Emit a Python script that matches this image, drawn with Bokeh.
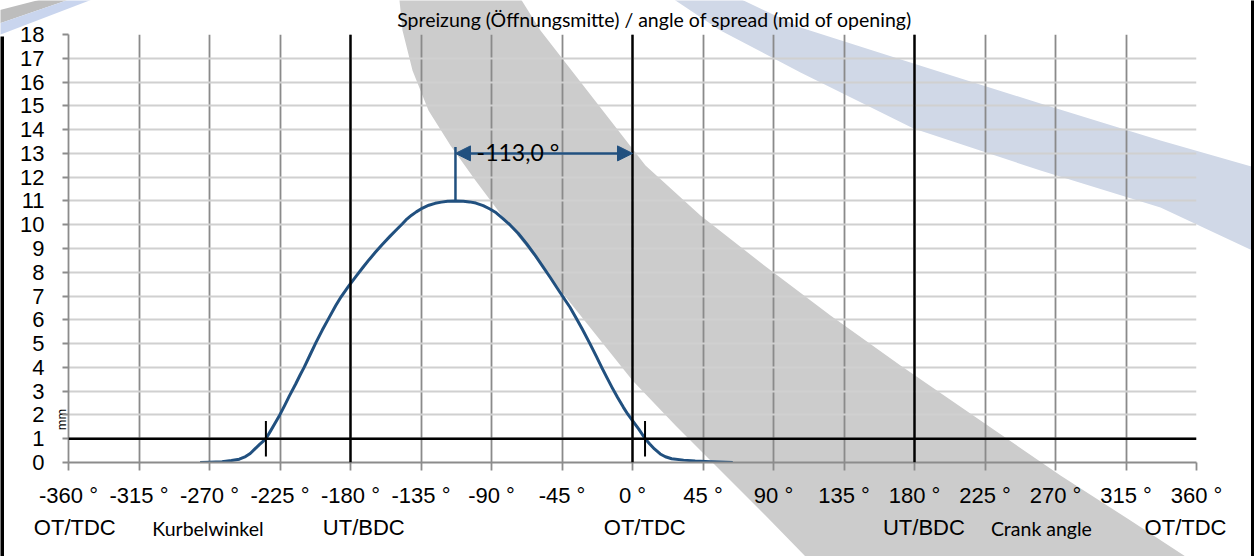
from bokeh.plotting import figure
from bokeh.layouts import column
from bokeh.models import Range1d, FixedTicker, Span, Label, Arrow, NormalHead
from bokeh.core.properties import value
from bokeh.embed import file_html
from bokeh.resources import INLINE

# ---------------- data ----------------
crank_angle = [-276, -270, -262, -256, -251, -247, -244, -241, -238, -236, -234, -231,
               -228, -225.7, -222, -219, -215, -212, -209.6, -206, -202, -198, -194, -189.4,
               -186, -182, -180, -176, -172, -168, -164, -160, -155, -151, -147, -144.6,
               -141, -138, -134, -130, -126, -122, -118, -113, -108, -104, -100, -95.3,
               -91, -87, -82.5, -78, -73, -67.6, -62, -57, -52.7, -48, -44, -39.9,
               -36, -32, -27.1, -23, -19.5, -16.4, -13, -9.5, -5.8, -3, 0, 4,
               8.1, 11, 14, 17.7, 21, 25, 32.6, 40, 50, 64]
valve_lift = [0.0, 0.01, 0.03, 0.08, 0.14, 0.25, 0.38, 0.57, 0.76, 0.88, 1.0, 1.33,
              1.67, 1.93, 2.4, 2.8, 3.3, 3.7, 4.0, 4.5, 5.05, 5.57, 6.05, 6.6,
              6.97, 7.34, 7.52, 7.87, 8.21, 8.54, 8.85, 9.15, 9.5, 9.77, 10.03, 10.2,
              10.4, 10.54, 10.7, 10.82, 10.9, 10.95, 10.99, 11.0, 10.99, 10.96, 10.91, 10.8,
              10.66, 10.5, 10.25, 9.98, 9.64, 9.2, 8.7, 8.22, 7.8, 7.33, 6.93, 6.53,
              6.08, 5.6, 4.99, 4.45, 3.98, 3.58, 3.15, 2.73, 2.32, 2.03, 1.76, 1.4,
              1.0, 0.78, 0.57, 0.36, 0.24, 0.16, 0.1, 0.06, 0.03, 0.0]

x_ticks = list(range(-360, 361, 45))
y_ticks = list(range(0, 19))
dead_centre_angles = [-180, 0, 180]
lift_threshold = 1.0
threshold_crossings = [-234, 8]
spread_angle = -113.0
peak_lift = 11.0

position_names = ["OT/TDC", "UT/BDC", "OT/TDC", "UT/BDC", "OT/TDC"]
position_label_x = [-356, -171.5, 7.8, 186, 353]
axis_titles = ["Kurbelwinkel", "Crank angle"]
axis_title_x = [-271, 261]
title_text = "Spreizung (Öffnungsmitte) / angle of spread (mid of opening)"

BLUE = "#21507f"
ARIAL = "Liberation Sans"
CAL = "Lato"
W, H = 1254, 556
FL, FR, FT, FB = 68, 1196, 34, 462   # frame edges on the canvas


def dx(xp):
    return (xp - FL) / (FR - FL) * 720 - 360


def dy(yp):
    return (FB - yp) / (FB - FT) * 18


# ---------------- background layer (decoration + outer texts) ----------------
bg = figure(width=W, height=H, x_range=Range1d(dx(0), dx(W)), y_range=Range1d(dy(H), dy(0)),
            x_axis_location=None, y_axis_location=None, min_border=0, frame_align=False,
            output_backend="svg", toolbar_location=None)
bg.grid.visible = False
bg.outline_line_color = None
bg.background_fill_color = "white"
bg.border_fill_color = "white"


def deco(points, color):
    bg.patch([dx(a) for a, b in points], [dy(b) for a, b in points],
             fill_color=color, line_color=None)


gray_left = [(398, -10), (402, 30), (412, 70), (428, 110), (450, 145), (475, 180), (505, 220),
             (537, 260), (568, 300), (600, 340), (632, 380), (675, 425), (720, 470),
             (765, 515), (805, 556), (815, 570)]
gray_right = [(1200, 570), (1185, 556), (1130, 520), (1060, 475), (980, 420), (900, 365),
              (830, 315), (760, 262), (700, 215), (645, 165), (610, 120), (575, 75),
              (540, 30), (515, -10)]
deco(gray_left + gray_right, "#cccccc")
deco([(722, -10), (800, 27), (913, 63), (1040, 103), (1160, 140), (1265, 170),
      (1265, 256), (1160, 207), (1040, 170), (913, 128), (800, 72), (720, 30), (660, -10)],
     "#d0d8e7")
deco([(-10, 12), (75, -10), (95, -10), (-10, 26)], "#bdbdbd")
deco([(-10, 26), (95, -10), (115, -10), (-10, 38)], "#c9d5ee")
deco([(-5, 36), (3.5, 36), (3.5, 560), (-5, 560)], "#000000")
deco([(1250.5, -5), (1260, -5), (1260, 560), (1250.5, 560)], "#000000")

bg.text(x=[dx(654)], y=[dy(18.5)], text=[title_text], text_font=value(CAL),
        text_font_size=value("19.5px"), text_color="black", text_align="center",
        text_baseline="alphabetic")
bg.text(x=position_label_x, y=[dy(526.5)] * len(position_names), text=position_names,
        text_font=value(ARIAL), text_font_size=value("22px"), text_color="black",
        text_align="center", text_baseline="alphabetic")
bg.text(x=axis_title_x, y=[dy(527.5)] * len(axis_titles), text=axis_titles,
        text_font=value(CAL), text_font_size=value("19.5px"), text_color="black",
        text_align="center", text_baseline="alphabetic")
bg.text(x=[dx(60)], y=[dy(419)], text=["mm"], angle=1.5708, text_font=value(CAL),
        text_font_size=value("13px"), text_color="black", text_align="center",
        text_baseline="middle")

# ---------------- chart layer ----------------
p = figure(width=W, height=H, x_range=Range1d(-360, 360), y_range=Range1d(0, 18),
           output_backend="svg", toolbar_location=None, frame_align=False,
           min_border_left=FL, min_border_right=W - FR, min_border_top=FT,
           min_border_bottom=H - FB, margin=(-H, 0, 0, 0))
p.outline_line_color = None
p.background_fill_alpha = 0
p.border_fill_alpha = 0

p.xaxis.ticker = FixedTicker(ticks=x_ticks)
p.xaxis.major_label_overrides = {t: f"{t} °" for t in x_ticks}
p.yaxis.ticker = FixedTicker(ticks=y_ticks)
for ax in (p.xaxis[0], p.yaxis[0]):
    ax.axis_line_color = "#8c8c8c"
    ax.axis_line_width = 1.8
    ax.major_tick_line_color = "#8c8c8c"
    ax.major_tick_line_width = 1.8
    ax.major_tick_in = 0
    ax.minor_tick_line_color = None
    ax.major_label_text_font = ARIAL
    ax.major_label_text_font_size = "22px"
    ax.major_label_text_color = "black"
p.xaxis.major_tick_out = 8
p.xaxis.major_label_standoff = 12
p.yaxis.major_tick_out = 6
p.yaxis.major_label_standoff = 18

p.xgrid.ticker = FixedTicker(ticks=x_ticks)
p.xgrid.grid_line_color = "#8a8a8a"
p.xgrid.grid_line_width = 1.8
p.ygrid.ticker = FixedTicker(ticks=y_ticks)
p.ygrid.grid_line_color = "#d0d0d0"
p.ygrid.grid_line_width = 1.8

for a in dead_centre_angles:
    p.add_layout(Span(location=a, dimension="height", line_color="black", line_width=2.4))
p.add_layout(Span(location=lift_threshold, dimension="width", line_color="black", line_width=2.4))

p.line(crank_angle, valve_lift, line_width=3, line_color=BLUE, line_join="round")

p.segment(x0=threshold_crossings, y0=[lift_threshold - 0.75] * 2,
          x1=threshold_crossings, y1=[lift_threshold + 0.75] * 2,
          line_color="black", line_width=2)

arrow_y = 13.0
p.segment(x0=[spread_angle], y0=[peak_lift], x1=[spread_angle], y1=[arrow_y + 0.27],
          line_color=BLUE, line_width=2.5)
p.add_layout(Arrow(x_start=spread_angle, y_start=arrow_y, x_end=0, y_end=arrow_y,
                   start=NormalHead(size=15, fill_color=BLUE, line_color=BLUE),
                   end=NormalHead(size=15, fill_color=BLUE, line_color=BLUE),
                   line_color=BLUE, line_width=2.5))
p.add_layout(Label(x=spread_angle + 13.5, y=arrow_y + 0.05,
                   text=f"{spread_angle:.1f} °".replace(".", ","),
                   text_font=CAL, text_font_size="23px", text_color="black",
                   text_align="left", text_baseline="alphabetic"))

layout = column(bg, p, spacing=0)
open("out.html", "w").write(file_html(layout, INLINE))
